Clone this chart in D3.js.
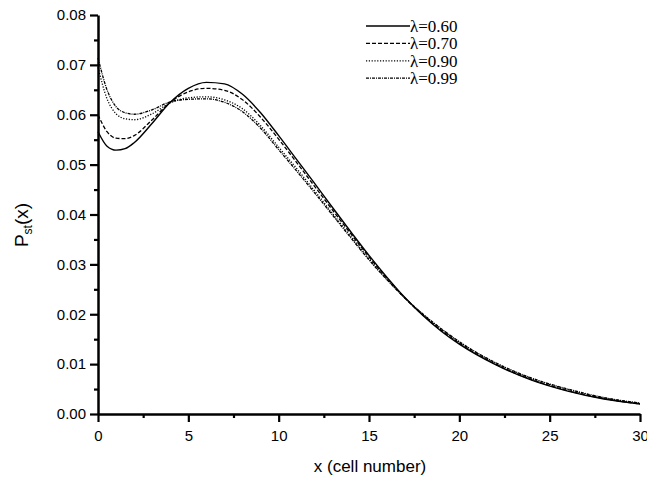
<!DOCTYPE html>
<html>
<head>
<meta charset="utf-8">
<script src="https://cdn.jsdelivr.net/npm/d3@7"></script>
<style>
  body { margin: 0; background: #fff; }
  svg { display: block; }
  .axis text { font-family: Arial, "Liberation Sans", sans-serif; fill: #000; }
</style>
</head>
<body>
<svg id="chart" width="647" height="479"></svg>
<script>
// x positions (cell number) where the curves were read
const xs = [0, 0.5, 1, 1.5, 2, 3, 4, 5, 6, 7, 8, 9, 10, 11, 12, 13, 14, 15, 16, 17, 18, 19, 20, 22, 24, 26, 28, 30];

// P_st(x) for each lambda
const p060 = [0.0566, 0.0537, 0.0529, 0.0532, 0.0544, 0.0583, 0.0625, 0.0653, 0.0665, 0.0662, 0.0641, 0.0604, 0.0558, 0.0510, 0.0462, 0.0413, 0.0365, 0.0318, 0.0274, 0.0233, 0.0197, 0.0166, 0.0140, 0.0099, 0.0068, 0.0046, 0.0030, 0.0020];
const p070 = [0.0600, 0.0566, 0.0553, 0.0552, 0.0558, 0.0590, 0.0625, 0.0646, 0.0653, 0.0649, 0.0630, 0.0595, 0.0551, 0.0504, 0.0456, 0.0408, 0.0361, 0.0315, 0.0272, 0.0232, 0.0198, 0.0168, 0.0142, 0.0100, 0.0069, 0.0047, 0.0031, 0.0020];
const p090 = [0.0695, 0.0632, 0.0602, 0.0592, 0.0590, 0.0602, 0.0624, 0.0634, 0.0636, 0.0630, 0.0612, 0.0578, 0.0535, 0.0492, 0.0447, 0.0401, 0.0356, 0.0311, 0.0270, 0.0232, 0.0199, 0.0170, 0.0144, 0.0102, 0.0071, 0.0049, 0.0032, 0.0021];
const p099 = [0.0714, 0.0650, 0.0616, 0.0604, 0.0601, 0.0610, 0.0626, 0.0631, 0.0632, 0.0625, 0.0606, 0.0573, 0.0530, 0.0487, 0.0443, 0.0398, 0.0353, 0.0309, 0.0269, 0.0232, 0.0200, 0.0171, 0.0145, 0.0103, 0.0072, 0.0050, 0.0033, 0.0022];

const seriesNames = ['\u03bb=0.60', '\u03bb=0.70', '\u03bb=0.90', '\u03bb=0.99'];
const seriesDash = [null, '4,2', '1.2,1.6', '3,1,1,1'];

const xTicks = [0, 5, 10, 15, 20, 25, 30];
const yTicks = [0, 0.01, 0.02, 0.03, 0.04, 0.05, 0.06, 0.07, 0.08];

const margin = { top: 15, left: 98, right: 7, bottom: 65 };
const width = 640 - margin.left;
const height = 414 - margin.top;

const svg = d3.select('#chart');
const chart = svg.append('g')
    .attr('transform', `translate(${margin.left},${margin.top})`);

const xScale = d3.scaleLinear().domain([0, 30]).range([0, width]);
const yScale = d3.scaleLinear().domain([0, 0.08]).range([height, 0]);

// minor ticks first
chart.append('g')
    .attr('transform', `translate(0,${height})`)
    .call(d3.axisBottom(xScale).tickValues(d3.range(2.5, 30, 5)).tickSize(4).tickFormat(''))
    .call(g => g.select('.domain').remove())
    .selectAll('line').attr('stroke-width', 2.2);

chart.append('g')
    .call(d3.axisLeft(yScale).tickValues(d3.range(0.005, 0.08, 0.01)).tickSize(4).tickFormat(''))
    .call(g => g.select('.domain').remove())
    .selectAll('line').attr('stroke-width', 2.2);

const xAxisG = chart.append('g')
    .attr('class', 'axis')
    .attr('transform', `translate(0,${height})`)
    .call(d3.axisBottom(xScale).tickValues(xTicks).tickSize(8).tickSizeOuter(0).tickPadding(8));

const yAxisG = chart.append('g')
    .attr('class', 'axis')
    .call(d3.axisLeft(yScale).tickValues(yTicks).tickSize(8).tickSizeOuter(0).tickPadding(4)
        .tickFormat(d3.format('.2f')));

xAxisG.selectAll('line').attr('stroke-width', 2.2);
yAxisG.selectAll('line').attr('stroke-width', 2.2);
xAxisG.select('.domain').attr('stroke-width', 2.5);
yAxisG.select('.domain').attr('stroke-width', 2.5);
xAxisG.selectAll('text').attr('font-size', 15);
yAxisG.selectAll('text').attr('font-size', 15);

// curves
const allSeries = [p060, p070, p090, p099];
const line = d3.line()
    .x((d, i) => xScale(xs[i]))
    .y(d => yScale(d))
    .curve(d3.curveMonotoneX);

allSeries.forEach((s, k) => {
    chart.append('path')
        .datum(s)
        .attr('fill', 'none')
        .attr('stroke', '#000')
        .attr('stroke-width', k === 0 ? 1.4 : 1.3)
        .attr('stroke-dasharray', seriesDash[k])
        .attr('d', line);
});

// legend
const legend = svg.append('g').attr('transform', 'translate(366,26)');
seriesNames.forEach((name, k) => {
    const row = legend.append('g').attr('transform', `translate(0,${k * 17.4})`);
    row.append('line')
        .attr('x1', 0).attr('x2', 44)
        .attr('stroke', '#000')
        .attr('stroke-width', k === 0 ? 1.6 : 1.3)
        .attr('stroke-dasharray', seriesDash[k]);
    row.append('text')
        .attr('x', 44).attr('y', 6)
        .attr('font-family', '"Liberation Serif", "Times New Roman", serif')
        .attr('font-size', 17)
        .text(name);
});

// axis titles
svg.append('text')
    .attr('x', 370).attr('y', 472)
    .attr('text-anchor', 'middle')
    .attr('font-family', 'Arial, "Liberation Sans", sans-serif')
    .attr('font-size', 17)
    .text('x (cell number)');

const yTitle = svg.append('text')
    .attr('transform', 'translate(28,225) rotate(-90)')
    .attr('text-anchor', 'middle')
    .attr('font-family', 'Arial, "Liberation Sans", sans-serif')
    .attr('font-size', 19);
yTitle.append('tspan').text('P');
yTitle.append('tspan').attr('font-size', 12).attr('dy', 4).text('st');
yTitle.append('tspan').attr('dy', -4).text('(x)');
</script>
</body>
</html>
